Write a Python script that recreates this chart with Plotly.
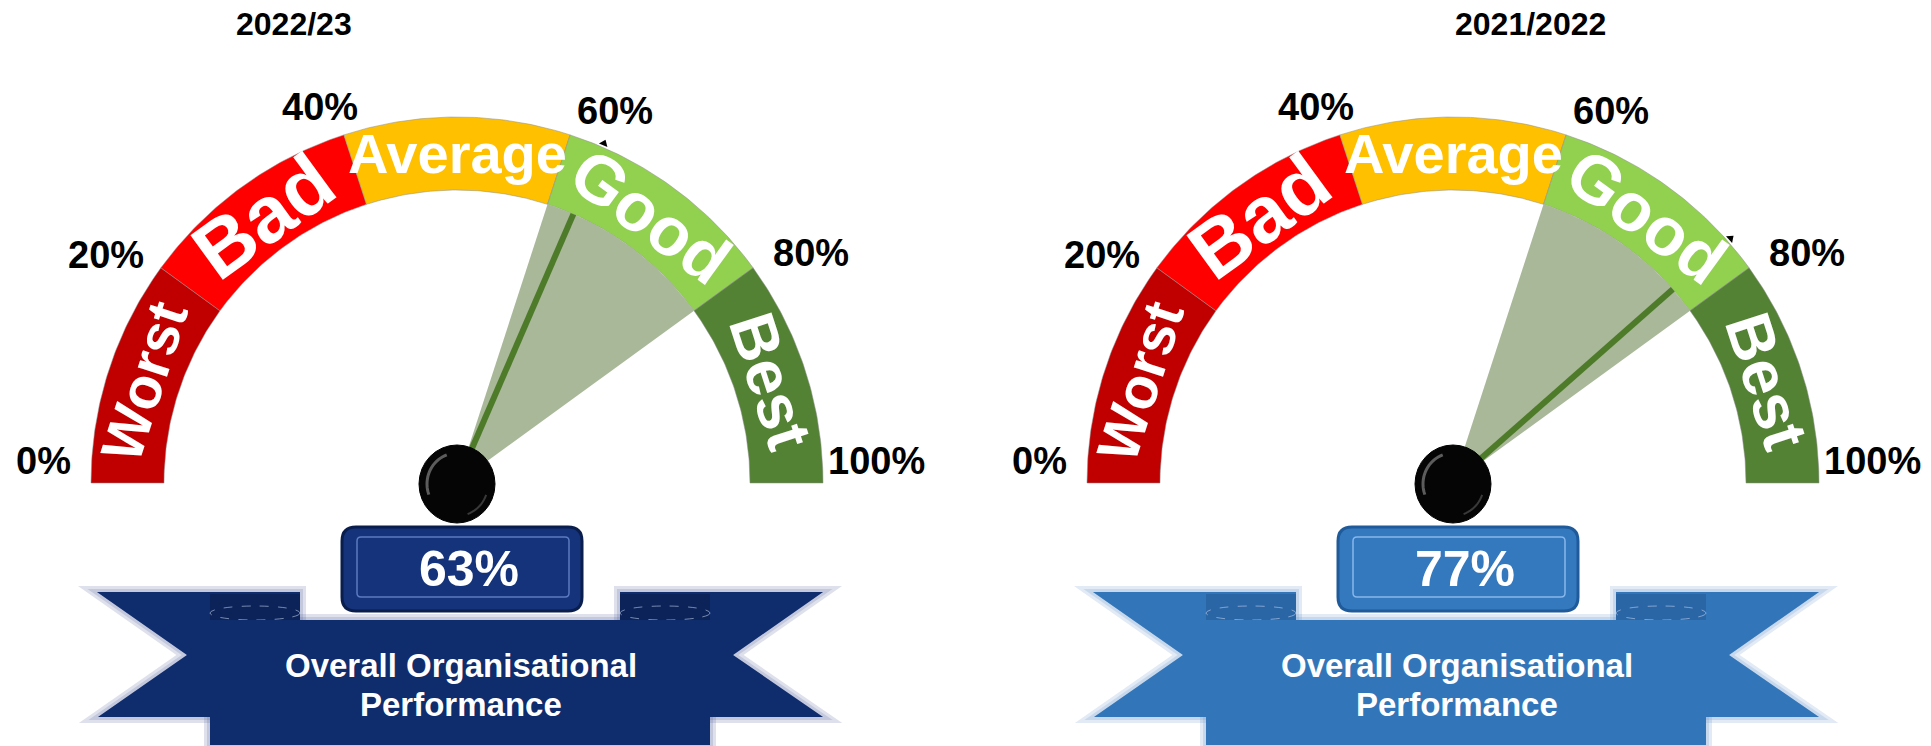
import numpy as np
import plotly.graph_objects as go

# ---------------- data ----------------
periods = ["2022/23", "2021/2022"]
scores = [63, 77]
band_names = ["Worst", "Bad", "Average", "Good", "Best"]
band_edges = [0, 20, 40, 60, 80, 100]
tick_values = [0, 20, 40, 60, 80, 100]
tick_labels = ["0%", "20%", "40%", "60%", "80%", "100%"]
good_range = [60, 80]
caption_lines = ["Overall Organisational", "Performance"]

# ---------------- layout / style ----------------
W, H = 1931, 746
CX = [457, 1453]
CY = 483
R_OUT, R_IN = 366, 293
SANS = "Liberation Sans, Arial, sans-serif"
band_colors = ["#C00000", "#FF0000", "#FFC000", "#92D050", "#548235"]
band_fonts = [58, 80, 56, 68, 64]
tick_nudge_deg = [-3, 3, 2, -5, -3, 3]
tick_r = [414, 418, 400, 404, 422, 420]
title_x = [294, 1530]
banner_fill = ["#0F2C6D", "#3276B9"]
banner_glow = ["rgba(70,90,150,0.18)", "rgba(90,140,200,0.18)"]
banner_fold = ["#0B2358", "#2A66A6"]
box_fill = ["#14337A", "#3478BE"]
box_edge = ["#0A1E4E", "#1F5A9A"]
box_inner = ["#5B7BC0", "#86B6EA"]
wedge_color = "#A8B898"
needle_color = "#4E7B2A"


def ang(p):
    return np.pi * (1 - p / 100.0)


def pt(cx, r, p):
    a = ang(p)
    return cx + r * np.cos(a), CY - r * np.sin(a)


def rounded_rect(x0, y0, x1, y1, r):
    return (f"M {x0+r},{y0} L {x1-r},{y0} Q {x1},{y0} {x1},{y0+r} "
            f"L {x1},{y1-r} Q {x1},{y1} {x1-r},{y1} L {x0+r},{y1} "
            f"Q {x0},{y1} {x0},{y1-r} L {x0},{y0+r} Q {x0},{y0} {x0+r},{y0} Z")


def poly(points):
    return "M " + " L ".join(f"{x},{y}" for x, y in points) + " Z"


fig = go.Figure()
shapes = []
annotations = []

for g, cx in enumerate(CX):
    # colour bands
    for i, name in enumerate(band_names):
        p0, p1 = band_edges[i], band_edges[i + 1]
        ps = np.linspace(p0, p1, 60)
        xo, yo = pt(cx, R_OUT, ps)
        xi, yi = pt(cx, R_IN, ps[::-1])
        xs = np.concatenate([xo, xi, xo[:1]])
        ys = np.concatenate([yo, yi, yo[:1]])
        fig.add_trace(go.Scatter(x=xs, y=ys, mode="lines", fill="toself",
                                 fillcolor=band_colors[i],
                                 line=dict(color="rgba(140,140,140,0.5)", width=1),
                                 hoverinfo="skip"))
        pm = (p0 + p1) / 2
        lx, ly = pt(cx, (R_OUT + R_IN) / 2, pm)
        annotations.append(dict(x=lx, y=ly, xref="x", yref="y", text=name,
                                textangle=90 - np.degrees(ang(pm)),
                                showarrow=False, xanchor="center", yanchor="middle",
                                font=dict(family=SANS, size=band_fonts[i], color="white",
                                          weight="bold")))

    # target wedge
    ps = np.linspace(good_range[0], good_range[1], 40)
    wx, wy = pt(cx, R_IN, ps)
    fig.add_trace(go.Scatter(x=np.concatenate([[cx], wx, [cx]]),
                             y=np.concatenate([[CY], wy, [CY]]),
                             mode="lines", fill="toself", fillcolor=wedge_color,
                             line=dict(width=0), hoverinfo="skip"))

    # needle
    nx, ny = pt(cx, R_IN, scores[g])
    fig.add_trace(go.Scatter(x=[cx, nx], y=[CY, ny], mode="lines",
                             line=dict(color=needle_color, width=6),
                             hoverinfo="skip"))
    # tip marker
    tx, ty = pt(cx, R_OUT + 4, scores[g])
    fig.add_trace(go.Scatter(x=[tx], y=[ty], mode="markers",
                             marker=dict(symbol="triangle-up", size=8, color="black",
                                         angle=90 - np.degrees(ang(scores[g]))),
                             hoverinfo="skip"))

    # tick labels
    for k, (tv, tl) in enumerate(zip(tick_values, tick_labels)):
        a = np.degrees(ang(tv)) + tick_nudge_deg[k]
        ax_ = cx + tick_r[k] * np.cos(np.radians(a))
        ay_ = CY - tick_r[k] * np.sin(np.radians(a))
        annotations.append(dict(x=ax_, y=ay_, xref="x", yref="y", text=tl,
                                showarrow=False, xanchor="center", yanchor="middle",
                                font=dict(family=SANS, size=38, color="black",
                                          weight="bold")))

    # hub
    hy = CY + 1
    shapes.append(dict(type="circle", xref="x", yref="y", x0=cx - 38, x1=cx + 38,
                       y0=hy - 39, y1=hy + 39, fillcolor="#050505",
                       line=dict(color="#000000", width=1)))
    hl = np.linspace(np.radians(110), np.radians(200), 20)
    shapes.append(dict(type="path", xref="x", yref="y",
                       path="M " + " L ".join(f"{cx + 30*np.cos(t)},{hy - 31*np.sin(t)}" for t in hl),
                       line=dict(color="rgba(150,150,150,0.6)", width=3)))
    hl2 = np.linspace(np.radians(-20), np.radians(-70), 12)
    shapes.append(dict(type="path", xref="x", yref="y",
                       path="M " + " L ".join(f"{cx + 31*np.cos(t)},{hy - 32*np.sin(t)}" for t in hl2),
                       line=dict(color="rgba(110,110,110,0.5)", width=2)))

    # banner
    tailL = [(cx - 360, 592), (cx - 157, 592), (cx - 157, 717), (cx - 359, 717), (cx - 270, 655)]
    tailR = [(cx + 366, 592), (cx + 163, 592), (cx + 163, 717), (cx + 366, 717), (cx + 276, 655)]
    centre = [(cx - 247, 620), (cx + 253, 620), (cx + 253, 745), (cx - 247, 745)]
    for wdt in (12, 6):
        for shp in (tailL, tailR, centre):
            shapes.append(dict(type="path", xref="x", yref="y", path=poly(shp),
                               fillcolor=banner_glow[g], layer="below",
                               line=dict(color=banner_glow[g], width=wdt)))
    for shp in (tailL, tailR):
        shapes.append(dict(type="path", xref="x", yref="y", path=poly(shp),
                           fillcolor=banner_fill[g], line=dict(width=0)))
    for fx0 in (cx - 247, cx + 163):
        shapes.append(dict(type="path", xref="x", yref="y",
                           path=poly([(fx0, 594), (fx0 + 90, 594), (fx0 + 90, 620), (fx0, 620)]),
                           fillcolor=banner_fold[g], line=dict(width=0)))
        shapes.append(dict(type="circle", xref="x", yref="y", x0=fx0, x1=fx0 + 90,
                           y0=606, y1=620, line=dict(color="rgba(190,205,235,0.6)", width=1, dash="dash")))
    shapes.append(dict(type="path", xref="x", yref="y", path=poly(centre),
                       fillcolor=banner_fill[g], line=dict(width=0)))

    # value box
    shapes.append(dict(type="path", xref="x", yref="y",
                       path=rounded_rect(cx - 115, 527, cx + 125, 611, 14),
                       fillcolor=box_fill[g], line=dict(color=box_edge[g], width=3)))
    shapes.append(dict(type="path", xref="x", yref="y",
                       path=rounded_rect(cx - 100, 537, cx + 112, 597, 4),
                       fillcolor="rgba(0,0,0,0)", line=dict(color=box_inner[g], width=1.5)))
    annotations.append(dict(x=cx + 12, y=569, xref="x", yref="y", text=f"{scores[g]}%",
                            showarrow=False, xanchor="center", yanchor="middle",
                            font=dict(family=SANS, size=50, color="white", weight="bold")))

    for li, line in enumerate(caption_lines):
        annotations.append(dict(x=cx + 4, y=665 + 39 * li, xref="x", yref="y", text=line,
                                showarrow=False, xanchor="center", yanchor="middle",
                                font=dict(family=SANS, size=33, color="white", weight="bold")))

    annotations.append(dict(x=title_x[g], y=24, xref="x", yref="y", text=periods[g],
                            showarrow=False, xanchor="center", yanchor="middle",
                            font=dict(family=SANS, size=32, color="black", weight="bold")))

fig.update_layout(width=W, height=H, autosize=False,
                  margin=dict(l=0, r=0, t=0, b=0, pad=0),
                  paper_bgcolor="white", plot_bgcolor="white",
                  showlegend=False, shapes=shapes, annotations=annotations,
                  xaxis=dict(range=[0, W], visible=False, fixedrange=True),
                  yaxis=dict(range=[H, 0], visible=False, fixedrange=True))

fig.write_html("out.html")
